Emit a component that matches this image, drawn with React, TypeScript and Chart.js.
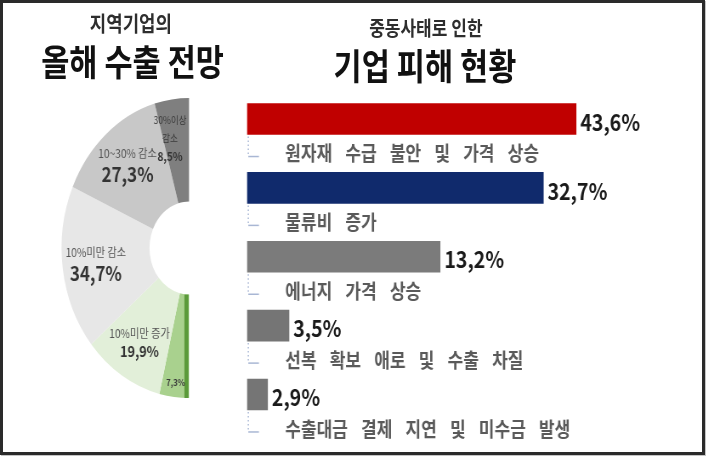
import { useEffect, useRef } from 'react';
import { Chart, registerables } from 'chart.js';

Chart.register(...registerables);

// 지역기업의 올해 수출 전망 (%), from the top of the half ring down to its bottom
const outlookLabels = ['30%이상 감소', '10~30% 감소', '10%미만 감소', '10%미만 증가', '10%이상 증가'];
const outlookValues = [8.5, 27.3, 34.7, 19.9, 7.3];

// 중동사태로 인한 기업 피해 현황 (%)
const damageLabels = [
  '원자재 수급 불안 및 가격 상승',
  '물류비 증가',
  '에너지 가격 상승',
  '선복 확보 애로 및 수출 차질',
  '수출대금 결제 지연 및 미수금 발생',
];
const damageValues = [43.6, 32.7, 13.2, 3.5, 2.9];

const FONT = '"Noto Sans CJK KR", "Noto Sans", sans-serif';
const SQUEEZE = 0.85; // the whole graphic is narrowed horizontally
const ringColors = ['#7f7f7f', '#c8c8c8', '#e7e7e7', '#e2efd9', '#a9d18e'];
const barColors = ['#c00000', '#102a6c', '#7b7b7b', '#757575', '#757575'];

const pct = (v: number) => v.toFixed(1).replace('.', ',') + '%';

const ringText = {
  id: 'ringText',
  afterDatasetsDraw(chart: any) {
    const ctx = chart.ctx as CanvasRenderingContext2D;
    const meta = chart.getDatasetMeta(0);
    const values = chart.data.datasets[0].data as number[];
    const labels = chart.data.labels as string[];
    ctx.save();

    // dark green edge along the bottom slice
    const first = meta.data[0].getProps(['x', 'y', 'startAngle', 'innerRadius', 'outerRadius'], true);
    const nx = Math.cos(first.startAngle + Math.PI / 2);
    const ny = Math.sin(first.startAngle + Math.PI / 2);
    ctx.strokeStyle = '#5b9a3a';
    ctx.lineWidth = 5;
    ctx.beginPath();
    ctx.moveTo(first.x + Math.cos(first.startAngle) * first.innerRadius + nx * 3, first.y + Math.sin(first.startAngle) * first.innerRadius + ny * 3);
    ctx.lineTo(first.x + Math.cos(first.startAngle) * first.outerRadius + nx * 3, first.y + Math.sin(first.startAngle) * first.outerRadius + ny * 3);
    ctx.stroke();

    ctx.textAlign = 'center';
    ctx.textBaseline = 'middle';
    meta.data.forEach((el: any, i: number) => {
      const { x, y, startAngle, endAngle, innerRadius, outerRadius } = el.getProps(
        ['x', 'y', 'startAngle', 'endAngle', 'innerRadius', 'outerRadius'],
        true
      );
      const v = values[i];
      const mid = (startAngle + endAngle) / 2;
      const r = innerRadius + (outerRadius - innerRadius) * (v < 8 ? 0.86 : 0.62);
      let tx = x + Math.cos(mid) * r;
      const ty = y + Math.sin(mid) * r;

      let lines: { text: string; font: string; color: string }[];
      let gap = 21;
      if (v < 8) {
        lines = [{ text: pct(v), font: `bold 9px ${FONT}`, color: '#3a3a3a' }];
      } else if (v < 10) {
        lines = labels[i].split(' ').map((t) => ({ text: t, font: `10px ${FONT}`, color: '#3a3a3a' }));
        lines.push({ text: pct(v), font: `bold 12px ${FONT}`, color: '#333' });
        gap = 18;
      } else {
        const big = v >= 25 ? 20 : 15;
        lines = [
          { text: labels[i], font: `12px ${FONT}`, color: '#555' },
          { text: pct(v), font: `bold ${big}px ${FONT}`, color: '#333' },
        ];
        if (big < 20) gap = 18;
      }

      // keep the text inside the left half
      let w = 0;
      lines.forEach((l) => {
        ctx.font = l.font;
        w = Math.max(w, ctx.measureText(l.text).width);
      });
      tx = Math.min(tx, x - w / 2 - 3);

      lines.forEach((l, k) => {
        ctx.font = l.font;
        ctx.fillStyle = l.color;
        ctx.fillText(l.text, tx, ty + (k - (lines.length - 1) / 2) * gap);
      });
    });
    ctx.restore();
  },
};

const barText = {
  id: 'barText',
  afterDatasetsDraw(chart: any) {
    const ctx = chart.ctx as CanvasRenderingContext2D;
    const meta = chart.getDatasetMeta(0);
    const values = chart.data.datasets[0].data as number[];
    const labels = chart.data.labels as string[];
    ctx.save();
    meta.data.forEach((bar: any, i: number) => {
      const { x, y, base, height } = bar.getProps(['x', 'y', 'base', 'height'], true);
      const bottom = y + height / 2;

      ctx.textAlign = 'left';
      ctx.textBaseline = 'middle';
      ctx.font = `bold 23px ${FONT}`;
      ctx.fillStyle = '#1a1a1a';
      ctx.fillText(pct(values[i]), x + 5, y + 3);

      // little bracket under the bar
      const ty = bottom + 19;
      ctx.strokeStyle = '#a9b7d4';
      ctx.lineWidth = 1.5;
      ctx.setLineDash([1.5, 2.5]);
      ctx.beginPath();
      ctx.moveTo(base + 1.5, bottom + 2);
      ctx.lineTo(base + 1.5, ty + 3);
      ctx.stroke();
      ctx.setLineDash([]);
      ctx.beginPath();
      ctx.moveTo(base + 1.5, ty + 3);
      ctx.lineTo(base + 14, ty + 3);
      ctx.stroke();

      ctx.font = `bold 20px ${FONT}`;
      ctx.fillStyle = '#5a5a5a';
      (ctx as any).wordSpacing = '11px';
      ctx.fillText(labels[i], base + 45, ty);
      (ctx as any).wordSpacing = '0px';
    });
    ctx.restore();
  },
};

function Heading({ text, cx, cy, size, color }: { text: string; cx: number; cy: number; size: number; color: string }) {
  return (
    <div
      style={{
        position: 'absolute',
        left: cx - 200,
        width: 400,
        top: cy - size * 0.8,
        textAlign: 'center',
        fontFamily: FONT,
        fontWeight: 700,
        fontSize: size,
        lineHeight: `${size * 1.5}px`,
        color,
        whiteSpace: 'nowrap',
      }}
    >
      {text}
    </div>
  );
}

export default function App() {
  const ringRef = useRef<HTMLCanvasElement>(null);
  const barRef = useRef<HTMLCanvasElement>(null);

  useEffect(() => {
    if (!ringRef.current || !barRef.current) return;

    const ring = new Chart(ringRef.current, {
      type: 'doughnut',
      data: {
        labels: [...outlookLabels].reverse(),
        datasets: [
          {
            data: [...outlookValues].reverse(),
            backgroundColor: [...ringColors].reverse(),
            borderWidth: 0,
          },
        ],
      },
      options: {
        animation: false,
        responsive: false,
        events: [],
        rotation: 180,
        circumference: 180,
        cutout: '31%',
        layout: { padding: { left: 72.4, right: 107.6, top: 98, bottom: 61 } },
        plugins: { legend: { display: false }, tooltip: { enabled: false } },
      },
      plugins: [ringText],
    });

    const bars = new Chart(barRef.current, {
      type: 'bar',
      data: {
        labels: damageLabels,
        datasets: [
          {
            data: damageValues,
            backgroundColor: barColors,
            borderWidth: 0,
            barThickness: 31,
          },
        ],
      },
      options: {
        indexAxis: 'y',
        animation: false,
        responsive: false,
        events: [],
        layout: { padding: { left: 10.6, right: 46.1, top: 84.6, bottom: 30.1 } },
        scales: {
          x: { type: 'logarithmic', min: 2.42, max: 100, display: false },
          y: { display: false },
        },
        plugins: { legend: { display: false }, tooltip: { enabled: false } },
      },
      plugins: [barText],
    });

    return () => {
      ring.destroy();
      bars.destroy();
    };
  }, []);

  return (
    <div style={{ position: 'absolute', left: 0, top: 0, width: 710, height: 459, background: '#fff', overflow: 'hidden' }}>
      <div
        style={{
          position: 'absolute',
          left: 0,
          top: 0,
          width: 835,
          height: 459,
          transform: `scaleX(${SQUEEZE})`,
          transformOrigin: '0 0',
        }}
      >
        <canvas ref={ringRef} width={330} height={459} style={{ position: 'absolute', left: 0, top: 0 }} />
        <canvas ref={barRef} width={555} height={459} style={{ position: 'absolute', left: 280, top: 0 }} />
        <Heading text="지역기업의" cx={154} cy={24} size={21} color="#2e2e2e" />
        <Heading text="올해 수출 전망" cx={156} cy={62} size={36} color="#111" />
        <Heading text="중동사태로 인한" cx={501} cy={29} size={20} color="#2e2e2e" />
        <Heading text="기업 피해 현황" cx={500} cy={66} size={36} color="#111" />
      </div>
      <div
        style={{
          position: 'absolute',
          left: 0,
          top: 0,
          width: 705,
          height: 455,
          boxSizing: 'border-box',
          border: '3px solid #2a2a2a',
          boxShadow: '1px 1px 0 #c4c4c4',
        }}
      />
    </div>
  );
}
